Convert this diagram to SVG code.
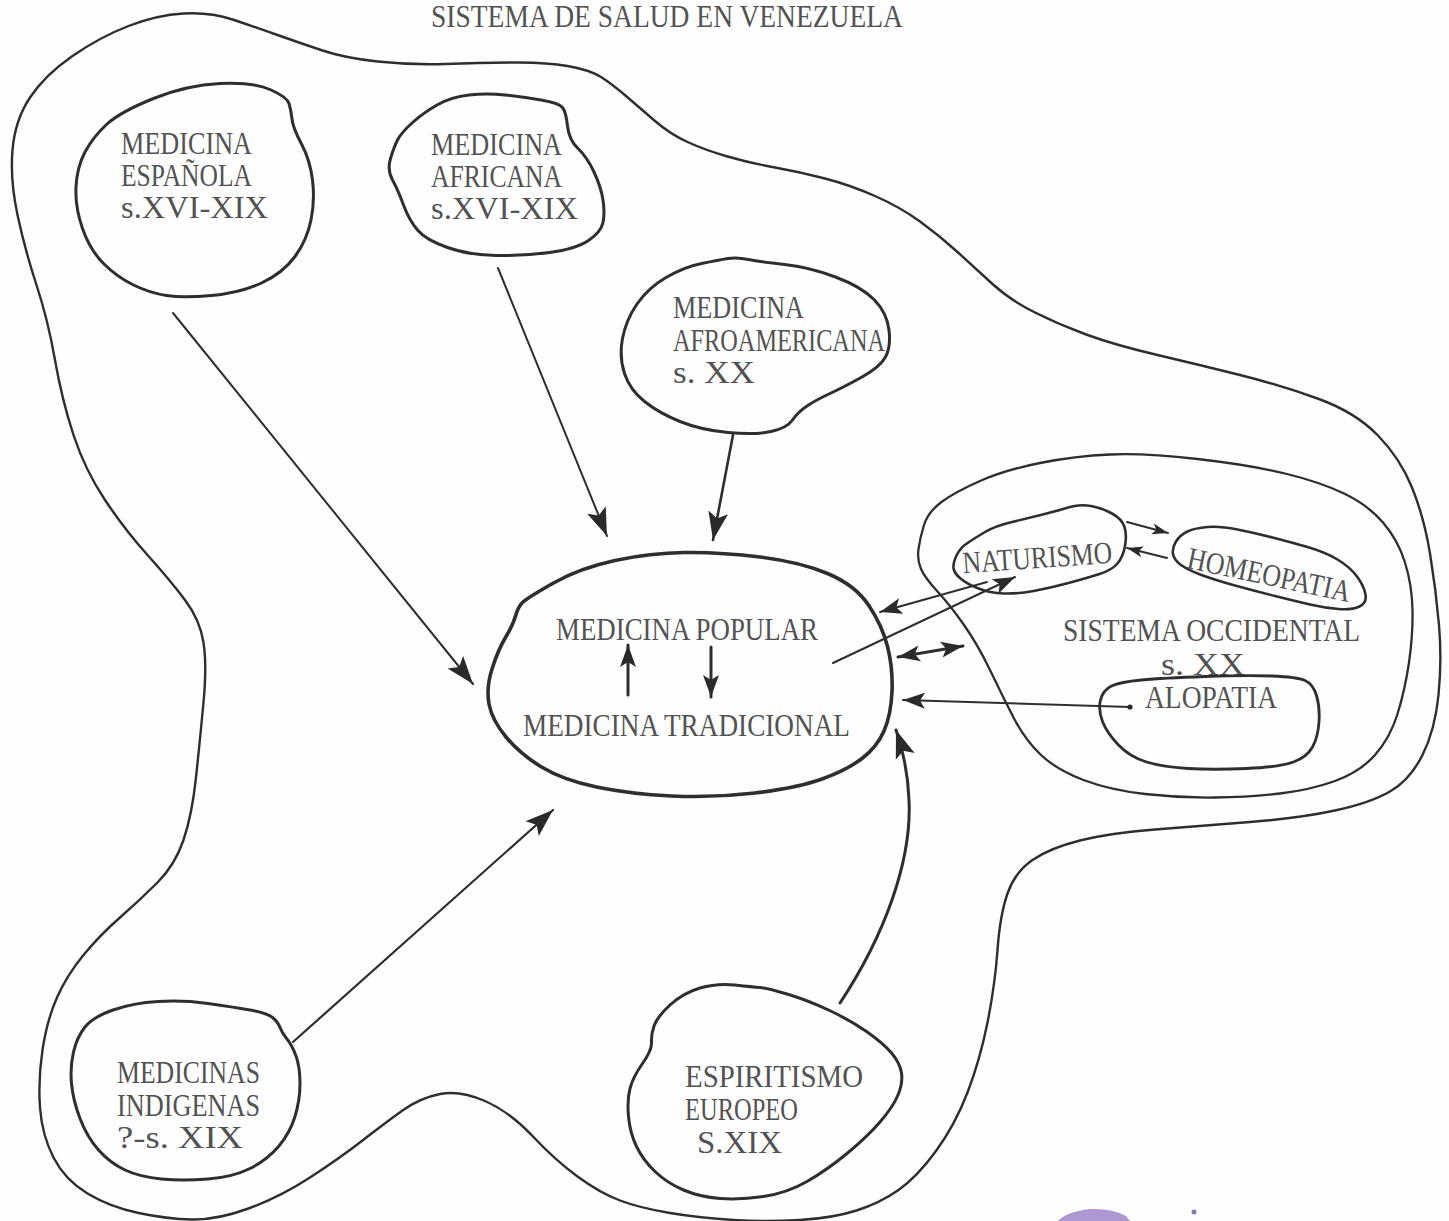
<svg xmlns="http://www.w3.org/2000/svg" width="1449" height="1221" viewBox="0 0 1449 1221">
<defs>
<style>
.bg{fill:#fefefe}
.ln{fill:none;stroke:#2e2e2e;stroke-linejoin:round;stroke-linecap:round}
.outer{stroke-width:2.4}
.blob{stroke-width:3}
.thick{stroke-width:3.6}
.so{stroke-width:2.3}
.arr{fill:none;stroke:#2e2e2e;stroke-linecap:round}
.t{font-family:'Liberation Serif','Times New Roman',serif;font-size:31px;fill:#525252}
</style>
<marker id="ahL" viewBox="0 0 28 22" markerWidth="28" markerHeight="22" refX="28" refY="11" orient="auto-start-reverse" markerUnits="userSpaceOnUse"><path d="M0,1 L28,11 L0,21 L6,11 Z" fill="#2a2a2a"/></marker>
<marker id="ahM" viewBox="0 0 22 18" markerWidth="22" markerHeight="18" refX="22" refY="9" orient="auto-start-reverse" markerUnits="userSpaceOnUse"><path d="M0,1 L22,9 L0,17 L5,9 Z" fill="#2a2a2a"/></marker>
<marker id="ahS" viewBox="0 0 16 12" markerWidth="16" markerHeight="12" refX="16" refY="6" orient="auto-start-reverse" markerUnits="userSpaceOnUse"><path d="M0,0.5 L16,6 L0,11.5 L4,6 Z" fill="#2a2a2a"/></marker>
</defs>
<rect class="bg" x="0" y="0" width="1449" height="1221"/>

<g id="title">
<text class="t" x="431" y="27" textLength="472" lengthAdjust="spacingAndGlyphs">SISTEMA DE SALUD EN VENEZUELA</text>
</g>

<g id="sistema-salud">
<path class="ln outer" d="M183.5,13.5 Q210,12 232.5,19.5 Q255,27 277.5,35 Q300,43 322.5,50.5 Q345,58 377.5,61.5 Q410,65 445,64 Q480,63 512.5,62.5 Q545,62 567.5,66 Q590,70 601,77 Q612,84 626,96 Q640,108 655,121 Q670,134 687.5,142 Q705,150 727.5,156.5 Q750,163 775,167.5 Q800,172 825,178.5 Q850,185 875,196 Q900,207 920,221.5 Q940,236 957.5,252 Q975,268 992.5,284 Q1010,300 1035,312.5 Q1060,325 1087.5,335 Q1115,345 1157.5,355 Q1200,365 1240,375 Q1280,385 1317.5,398.5 Q1355,412 1377.5,435 Q1400,458 1412,487.5 Q1424,517 1430,553.5 Q1436,590 1439,625 Q1442,660 1438.5,695 Q1435,730 1422.5,755 Q1410,780 1390,791.5 Q1370,803 1335,810.5 Q1300,818 1250,822 Q1200,826 1155,829.5 Q1110,833 1080,840.5 Q1050,848 1032.5,860 Q1015,872 1007.5,893.5 Q1000,915 997.5,950 Q995,985 987.5,1022.5 Q980,1060 967.5,1092.5 Q955,1125 936,1151 Q917,1177 898.5,1190 Q880,1203 856.5,1210.5 Q833,1218 800,1220 Q767,1222 733.5,1220 Q700,1218 670,1213 Q640,1208 620,1200.5 Q600,1193 577.5,1176.5 Q555,1160 532.5,1136 Q510,1112 485,1101 Q460,1090 440,1094 Q420,1098 402.5,1110.5 Q385,1123 362.5,1140.5 Q340,1158 310,1177.5 Q280,1197 248.5,1208.5 Q217,1220 192,1219.5 Q167,1219 138.5,1213 Q110,1207 87.5,1193.5 Q65,1180 53.5,1157.5 Q42,1135 40,1107.5 Q38,1080 42.5,1050 Q47,1020 57,997.5 Q67,975 83.5,955 Q100,935 120,917.5 Q140,900 157.5,882.5 Q175,865 183.5,840 Q192,815 196,777.5 Q200,740 203.5,702.5 Q207,665 203.5,642.5 Q200,620 185,600 Q170,580 147.5,555 Q125,530 105,500 Q85,470 73.5,435 Q62,400 55,360 Q48,320 36.5,285 Q25,250 17.5,215 Q10,180 12.5,150 Q15,120 30,97.5 Q45,75 72.5,56 Q100,37 128.5,26 Q157,15 183.5,13.5 Z"/>
</g>

<g id="node-espanola">
<path class="ln blob" d="M153.5,98.5 Q187,85 220,83.5 Q253,82 270,89.5 Q287,97 289,103.5 Q291,110 292,119 Q293,128 301.5,144 Q310,160 312.5,180 Q315,200 311,220 Q307,240 295,256.5 Q283,273 261.5,283 Q240,293 211.5,295.5 Q183,298 166.5,295.5 Q150,293 133.5,285 Q117,277 103.5,263.5 Q90,250 82.5,228.5 Q75,207 76,187 Q77,167 85,152 Q93,137 106.5,124.5 Q120,112 153.5,98.5 Z"/>
<text class="t" x="121" y="154" textLength="131" lengthAdjust="spacingAndGlyphs">MEDICINA</text>
<text class="t" x="121" y="186" textLength="131" lengthAdjust="spacingAndGlyphs">ESPAÑOLA</text>
<text class="t" x="121" y="218" textLength="147" lengthAdjust="spacingAndGlyphs">s.XVI-XIX</text>
</g>

<g id="node-africana">
<path class="ln blob" d="M390.5,158.5 Q387,170 392.5,180 Q398,190 403.5,205 Q409,220 417.5,230 Q426,240 447.5,247.5 Q469,255 496,255.5 Q523,256 549.5,252.5 Q576,249 588.5,240.5 Q601,232 603,222.5 Q605,213 603,200 Q601,187 594,172 Q587,157 578,148.5 Q569,140 567.5,126 Q566,112 562.5,107.5 Q559,103 541,100 Q523,97 505,95 Q487,93 469,95 Q451,97 437,105 Q423,113 412,123 Q401,133 397.5,140 Q394,147 390.5,158.5 Z"/>
<text class="t" x="431" y="155" textLength="131" lengthAdjust="spacingAndGlyphs">MEDICINA</text>
<text class="t" x="431" y="187" textLength="131" lengthAdjust="spacingAndGlyphs">AFRICANA</text>
<text class="t" x="431" y="219" textLength="147" lengthAdjust="spacingAndGlyphs">s.XVI-XIX</text>
</g>

<g id="node-afroamericana">
<path class="ln blob" d="M748.5,259.5 Q760,262 784.5,264.5 Q809,267 835.5,277 Q862,287 874.5,300 Q887,313 889,330 Q891,347 885.5,357 Q880,367 862,377 Q844,387 830,393.5 Q816,400 807,406 Q798,412 792.5,420 Q787,428 771,431.5 Q755,435 728,432.5 Q701,430 680,421.5 Q659,413 644.5,401.5 Q630,390 624.5,373.5 Q619,357 622.5,338.5 Q626,320 637,304 Q648,288 666,277.5 Q684,267 701.5,263.5 Q719,260 728,258.5 Q737,257 748.5,259.5 Z"/>
<text class="t" x="673" y="318" textLength="131" lengthAdjust="spacingAndGlyphs">MEDICINA</text>
<text class="t" x="673" y="351" textLength="212" lengthAdjust="spacingAndGlyphs">AFROAMERICANA</text>
<text class="t" x="673" y="383" textLength="82" lengthAdjust="spacingAndGlyphs">s. XX</text>
</g>

<g id="node-popular-tradicional">
<path class="ln thick" d="M553.5,583 Q580,568 615,560.5 Q650,553 685,552.5 Q720,552 760,557 Q800,562 827.5,573.5 Q855,585 868.5,605 Q882,625 887.5,646.5 Q893,668 892,691.5 Q891,715 884,731 Q877,747 862,758.5 Q847,770 822,779 Q797,788 755,793 Q713,798 671.5,796 Q630,794 596.5,787 Q563,780 541.5,767 Q520,754 506,737 Q492,720 489,704 Q486,688 492,669 Q498,650 505.5,637.5 Q513,625 515.5,616 Q518,607 522.5,602.5 Q527,598 553.5,583 Z"/>
<text class="t" x="556" y="640" textLength="262" lengthAdjust="spacingAndGlyphs">MEDICINA POPULAR</text>
<text class="t" x="523" y="736" textLength="327" lengthAdjust="spacingAndGlyphs">MEDICINA TRADICIONAL</text>
</g>

<g id="node-occidental">
<path class="ln so" d="M941.5,502 Q955,492 980,481 Q1005,470 1040,463 Q1075,456 1110,454.5 Q1145,453 1197.5,459 Q1250,465 1285,473.5 Q1320,482 1344,493.5 Q1368,505 1383,522.5 Q1398,540 1405,562.5 Q1412,585 1412.5,610 Q1413,635 1409,662.5 Q1405,690 1397.5,714 Q1390,738 1375,755 Q1360,772 1335,781 Q1310,790 1280,793.5 Q1250,797 1215,797.5 Q1180,798 1145,794 Q1110,790 1083.5,780 Q1057,770 1041,755 Q1025,740 1013.5,717.5 Q1002,695 990,670 Q978,645 964,625 Q950,605 937.5,591.5 Q925,578 921,569 Q917,560 918.5,549 Q920,538 924,525 Q928,512 941.5,502 Z"/>
<text class="t" x="1063" y="641" textLength="297" lengthAdjust="spacingAndGlyphs">SISTEMA OCCIDENTAL</text>
<text class="t" x="1161" y="675" textLength="84" lengthAdjust="spacingAndGlyphs">s. XX</text>
</g>

<g id="node-naturismo">
<path class="ln blob" style="stroke-width:2.6" d="M956.5,555.5 Q960,548 967.5,543 Q975,538 985,532 Q995,526 1014,521.5 Q1033,517 1046.5,513.5 Q1060,510 1070,507 Q1080,504 1091,506 Q1102,508 1112,513.5 Q1122,519 1124.5,527 Q1127,535 1125,546 Q1123,557 1117.5,563.5 Q1112,570 1099.5,574 Q1087,578 1068.5,583 Q1050,588 1033.5,591 Q1017,594 1003.5,593.5 Q990,593 978.5,588.5 Q967,584 960.5,578.5 Q954,573 953.5,568 Q953,563 956.5,555.5 Z"/>
<text class="t" x="963" y="568" textLength="150" lengthAdjust="spacingAndGlyphs" transform="rotate(-4 1038 568)">NATURISMO</text>
</g>

<g id="node-homeopatia">
<path class="ln blob" style="stroke-width:2.6" d="M1176,541.5 Q1180,535 1187.5,531.5 Q1195,528 1207.5,527 Q1220,526 1237.5,529.5 Q1255,533 1272.5,537.5 Q1290,542 1307.5,547 Q1325,552 1337.5,559.5 Q1350,567 1357,576.5 Q1364,586 1365.5,594.5 Q1367,603 1359.5,606.5 Q1352,610 1338.5,609 Q1325,608 1310,604.5 Q1295,601 1275,596 Q1255,591 1235,585.5 Q1215,580 1201.5,575 Q1188,570 1181,565 Q1174,560 1173,554 Q1172,548 1176,541.5 Z"/>
<text class="t" x="1184" y="585" textLength="166" lengthAdjust="spacingAndGlyphs" transform="rotate(12 1267 585)">HOMEOPATIA</text>
</g>

<g id="node-alopatia">
<path class="ln blob" style="stroke-width:2.8" d="M1111.5,686 Q1120,682 1141.5,680 Q1163,678 1205,676.5 Q1247,675 1272,676 Q1297,677 1305,680.5 Q1313,684 1316.5,695.5 Q1320,707 1319,722 Q1318,737 1312.5,747 Q1307,757 1293.5,762 Q1280,767 1246.5,768.5 Q1213,770 1188,768.5 Q1163,767 1146.5,762 Q1130,757 1118.5,745 Q1107,733 1102.5,721.5 Q1098,710 1100.5,700 Q1103,690 1111.5,686 Z"/>
<text class="t" x="1145" y="708" textLength="132" lengthAdjust="spacingAndGlyphs">ALOPATIA</text>
</g>

<g id="node-indigenas">
<path class="ln blob" d="M85,1027 Q93,1017 113,1010 Q133,1003 158,1001.5 Q183,1000 208,1003.5 Q233,1007 250,1010 Q267,1013 272.5,1017.5 Q278,1022 280,1027.5 Q282,1033 287,1039 Q292,1045 296,1056 Q300,1067 300,1083.5 Q300,1100 295,1116.5 Q290,1133 278.5,1146.5 Q267,1160 250,1168.5 Q233,1177 208,1179 Q183,1181 161.5,1179 Q140,1177 125,1170 Q110,1163 98.5,1150 Q87,1137 80,1118.5 Q73,1100 71.5,1083.5 Q70,1067 73.5,1052 Q77,1037 85,1027 Z"/>
<text class="t" x="117" y="1083" textLength="143" lengthAdjust="spacingAndGlyphs">MEDICINAS</text>
<text class="t" x="117" y="1116" textLength="143" lengthAdjust="spacingAndGlyphs">INDIGENAS</text>
<text class="t" x="117" y="1148" textLength="126" lengthAdjust="spacingAndGlyphs">?-s. XIX</text>
</g>

<g id="node-espiritismo">
<path class="ln blob" d="M735,985 Q717,983 700,988 Q683,993 670,1005 Q657,1017 654,1026 Q651,1035 651.5,1042.5 Q652,1050 642.5,1063.5 Q633,1077 630,1088.5 Q627,1100 628.5,1116.5 Q630,1133 636.5,1146.5 Q643,1160 655,1171.5 Q667,1183 683.5,1190 Q700,1197 720,1198.5 Q740,1200 763.5,1196.5 Q787,1193 807,1181.5 Q827,1170 847,1153.5 Q867,1137 880,1122 Q893,1107 898,1095 Q903,1083 901.5,1073 Q900,1063 891.5,1053 Q883,1043 866.5,1031.5 Q850,1020 828.5,1010 Q807,1000 787,994 Q767,988 760,987.5 Q753,987 735,985 Z"/>
<text class="t" x="685" y="1087" textLength="178" lengthAdjust="spacingAndGlyphs">ESPIRITISMO</text>
<text class="t" x="685" y="1120" textLength="113" lengthAdjust="spacingAndGlyphs">EUROPEO</text>
<text class="t" x="697" y="1153" textLength="85" lengthAdjust="spacingAndGlyphs">S.XIX</text>
</g>

<g id="connectors">
<path class="arr" stroke-width="2" d="M173,313 L473,684" marker-end="url(#ahL)"/>
<path class="arr" stroke-width="2" d="M498,268 L607,536" marker-end="url(#ahL)"/>
<path class="arr" stroke-width="2.6" d="M733,435 L713,540" marker-end="url(#ahL)"/>
<path class="arr" stroke-width="2.2" d="M293,1042 L553,810" marker-end="url(#ahL)"/>
<path class="arr" stroke-width="3" d="M840,1003 C885,935 912,860 909,800 C908,775 903,750 896,730" marker-end="url(#ahL)"/>
<path class="arr" stroke-width="2" d="M1130,707 L903,700" marker-end="url(#ahM)"/>
<circle cx="1130" cy="707" r="2.6" fill="#2a2a2a"/>
<path class="arr" stroke-width="3" d="M898,657 L963,646" marker-start="url(#ahM)" marker-end="url(#ahM)"/>
<path class="arr" stroke-width="2" d="M987,582 L880,612" marker-end="url(#ahM)"/>
<path class="arr" stroke-width="2" d="M833,663 L1015,577" marker-end="url(#ahM)"/>
<path class="arr" stroke-width="2" d="M1127,522 L1168,533" marker-end="url(#ahS)"/>
<path class="arr" stroke-width="2" d="M1167,558 L1127,548" marker-end="url(#ahS)"/>
<path class="arr" stroke-width="3" d="M628,695 L628,645" marker-end="url(#ahM)"/>
<path class="arr" stroke-width="3" d="M711,647 L711,697" marker-end="url(#ahM)"/>
</g>

<g id="stamp">
<path d="M1058,1221 Q1066,1212 1090,1209 Q1112,1208 1126,1216 L1130,1221 Z" fill="#8a6cc0" opacity="0.7"/>
<circle cx="1194" cy="1212" r="2.5" fill="#6a55a0" opacity="0.8"/>
</g>
</svg>
